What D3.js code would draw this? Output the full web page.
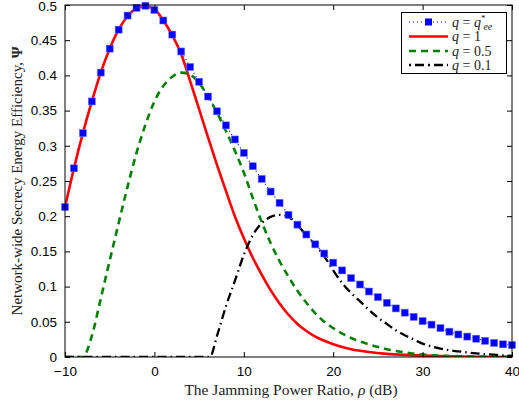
<!DOCTYPE html>
<html><head><meta charset="utf-8">
<script src="https://cdn.jsdelivr.net/npm/d3@7"></script>
<style>
html,body{margin:0;padding:0;background:#fff;}
svg{display:block;}
</style></head>
<body>
<svg id="chart" width="519" height="406"></svg>
<script>
// ---- data ----
const blueX = [-10,-9,-8,-7,-6,-5,-4,-3,-2,-1,0,1,2,3,4,5,6,7,8,9,10,11,12,13,14,15,16,17,18,19,20,21,22,23,24,25,26,27,28,29,30,31,32,33,34,35,36,37,38,39,40];
const blueY = [0.213,0.268,0.318,0.363,0.404,0.438,0.465,0.485,0.496,0.499,0.493,0.478,0.458,0.434,0.412,0.391,0.370,0.349,0.329,0.309,0.290,0.271,0.253,0.235,0.219,0.202,0.188,0.174,0.160,0.147,0.134,0.123,0.112,0.103,0.093,0.085,0.077,0.069,0.063,0.057,0.051,0.046,0.041,0.036,0.032,0.029,0.026,0.023,0.020,0.018,0.017];

const redX = [-10,-9,-8,-7,-6,-5,-4,-3,-2,-1,0,1,2,3,4,5,6,7,8,9,10,11,12,13,14,15,16,17,18,19,20,22,24,26,28,30,33,36,40];
const redY = [0.213,0.268,0.318,0.363,0.404,0.438,0.465,0.484,0.495,0.498,0.494,0.478,0.457,0.430,0.392,0.352,0.312,0.273,0.236,0.200,0.169,0.141,0.117,0.095,0.076,0.060,0.047,0.037,0.029,0.023,0.018,0.011,0.007,0.0045,0.003,0.002,0.001,0.0004,0];

const greenX = [-10,-8,-7,-6,-5,-4,-3,-2,-1,0,1,2,3,4,5,6,7,8,9,10,11,12,13,14,15,16,17,18,19,20,22,24,26,28,30,33,36,40];
const greenY = [0,0,0.030,0.083,0.137,0.190,0.242,0.290,0.330,0.363,0.385,0.398,0.404,0.401,0.389,0.370,0.347,0.321,0.293,0.262,0.226,0.192,0.162,0.136,0.114,0.094,0.077,0.062,0.050,0.041,0.027,0.018,0.011,0.0065,0.0035,0.0015,0.0006,0.0002];

const blackX = [-10,6.2,7,8,9,10,11,12,13,14,15,16,17,18,19,20,21,22,23,24,25,26,27,28,29,30,31,32,33,34,35,36,37,38,39,40];
const blackY = [0,0,0.030,0.072,0.108,0.145,0.173,0.190,0.199,0.202,0.199,0.187,0.173,0.159,0.143,0.123,0.105,0.091,0.079,0.067,0.056,0.047,0.038,0.031,0.025,0.019,0.015,0.012,0.0095,0.008,0.0065,0.0052,0.004,0.0033,0.0022,0.0015];

const xTicks = [-10,0,10,20,30,40];
const xTickLabels = ["\u221210","0","10","20","30","40"];
const yTicks = [0,0.05,0.1,0.15,0.2,0.25,0.3,0.35,0.4,0.45,0.5];
const yTickLabels = ["0","0.05","0.1","0.15","0.2","0.25","0.3","0.35","0.4","0.45","0.5"];

// ---- layout ----
const L = 65, R = 512, T = 5, B = 357;
const svg = d3.select("#chart");
const x = d3.scaleLinear().domain([-10,40]).range([L,R]);
const y = d3.scaleLinear().domain([0,0.5]).range([B,T]);

svg.append("clipPath").attr("id","pc").append("rect")
  .attr("x",L).attr("y",T-2).attr("width",R-L).attr("height",B-T+2);

const zip = (xs,ys)=>xs.map((v,i)=>[v,ys[i]]);
const line = d3.line().x(d=>x(d[0])).y(d=>y(d[1])).curve(d3.curveMonotoneX);

const g = svg.append("g").attr("clip-path","url(#pc)");

// blue dotted line + markers
g.append("path").datum(zip(blueX,blueY)).attr("d",line)
  .attr("fill","none").attr("stroke","#0000ff").attr("stroke-width",1.2).attr("stroke-dasharray","1,3");
svg.append("g").selectAll("rect").data(zip(blueX,blueY)).join("rect")
  .attr("x",d=>x(d[0])-3.5).attr("y",d=>y(d[1])-3.5).attr("width",7).attr("height",7)
  .attr("fill","#0000ff").attr("stroke","#6f6fff").attr("stroke-width",0.6);

// red
g.append("path").datum(zip(redX,redY)).attr("d",line)
  .attr("fill","none").attr("stroke","#ff0000").attr("stroke-width",2.6);
// green
g.append("path").datum(zip(greenX,greenY)).attr("d",line)
  .attr("fill","none").attr("stroke","#008000").attr("stroke-width",2.6).attr("stroke-dasharray","7,5");
// black
g.append("path").datum(zip(blackX,blackY)).attr("d",line)
  .attr("fill","none").attr("stroke","#000").attr("stroke-width",2.3).attr("stroke-dasharray","9,4,1.5,4");

// ---- axes (MATLAB box style, inward ticks) ----
const ax = svg.append("g");
ax.append("rect").attr("x",L).attr("y",T).attr("width",R-L).attr("height",B-T)
  .attr("fill","none").attr("stroke","#000").attr("stroke-width",1);

const xAxB = d3.axisBottom(x).tickValues(xTicks).tickSize(-5).tickFormat((d,i)=>xTickLabels[i]).tickPadding(9);
const xAxT = d3.axisTop(x).tickValues(xTicks).tickSize(-5).tickFormat("");
const yAxL = d3.axisLeft(y).tickValues(yTicks).tickSize(-5).tickFormat((d,i)=>yTickLabels[i]).tickPadding(8);
const yAxR = d3.axisRight(y).tickValues(yTicks).tickSize(-5).tickFormat("");

function style(sel){
  sel.select(".domain").remove();
  sel.selectAll(".tick line").attr("stroke","#000");
  sel.selectAll(".tick text").attr("fill","#000").style("font-family","'Liberation Sans',Arial,sans-serif").style("font-size","13.5px");
}
ax.append("g").attr("transform",`translate(0,${B})`).call(xAxB).call(style);
ax.append("g").attr("transform",`translate(0,${T})`).call(xAxT).call(style);
const yg = ax.append("g").attr("transform",`translate(${L},0)`).call(yAxL).call(style);
// keep the top label inside the page
yg.selectAll(".tick text").filter(d=>d===0.5).attr("dy","0.42em");
ax.append("g").attr("transform",`translate(${R},0)`).call(yAxR).call(style);

// ---- axis labels ----
const serif = "'Liberation Serif','DejaVu Serif',serif";
const xl = svg.append("text").attr("x",291).attr("y",395).attr("text-anchor","middle")
  .style("font-family",serif).style("font-size","15.5px").attr("fill","#222");
xl.append("tspan").text("The Jamming Power Ratio, ");
xl.append("tspan").style("font-style","italic").text("\u03C1");
xl.append("tspan").text(" (dB)");

const yl = svg.append("text").attr("transform","translate(22,181) rotate(-90)").attr("text-anchor","middle")
  .style("font-family",serif).style("font-size","15px").attr("fill","#222");
yl.append("tspan").text("Network-wide Secrecy Energy Efficiency, ");
yl.append("tspan").style("font-weight","bold").text("\u03A8");

// ---- legend ----
const lg = svg.append("g");
lg.append("rect").attr("x",401.5).attr("y",12.5).attr("width",105).attr("height",61)
  .attr("fill","#fff").attr("stroke","#000").attr("stroke-width",1);
const rows = [22,36.5,51,65];
const sx0 = 409, sx1 = 448, tx = 452;
lg.append("line").attr("x1",sx0).attr("x2",sx1).attr("y1",rows[0]).attr("y2",rows[0])
  .attr("stroke","#0000ff").attr("stroke-width",1.2).attr("stroke-dasharray","1,3");
lg.append("rect").attr("x",(sx0+sx1)/2-3.5).attr("y",rows[0]-3.5).attr("width",7).attr("height",7).attr("fill","#0000ff");
lg.append("line").attr("x1",sx0).attr("x2",sx1).attr("y1",rows[1]).attr("y2",rows[1])
  .attr("stroke","#ff0000").attr("stroke-width",2.6);
lg.append("line").attr("x1",sx0).attr("x2",sx1).attr("y1",rows[2]).attr("y2",rows[2])
  .attr("stroke","#008000").attr("stroke-width",2.6).attr("stroke-dasharray","7,5");
lg.append("line").attr("x1",sx0).attr("x2",sx1).attr("y1",rows[3]).attr("y2",rows[3])
  .attr("stroke","#000").attr("stroke-width",2.3).attr("stroke-dasharray","2,4,9,4");

const legVals = [null,"1","0.5","0.1"];
rows.forEach((ry,i)=>{
  const t = lg.append("text").attr("x",tx).attr("y",ry+4.5)
    .style("font-family",serif).style("font-size","14px").attr("fill","#222");
  t.append("tspan").style("font-style","italic").text("q");
  t.append("tspan").text(" = ");
  if(i===0){
    t.append("tspan").style("font-style","italic").text("q");
    t.append("tspan").attr("dy",-6).style("font-size","9px").text("*");
    t.append("tspan").attr("dx",-2).attr("dy",9).style("font-size","10px").style("font-style","italic").text("ee");
  } else {
    t.append("tspan").text(legVals[i]);
  }
});
</script>
</body></html>
